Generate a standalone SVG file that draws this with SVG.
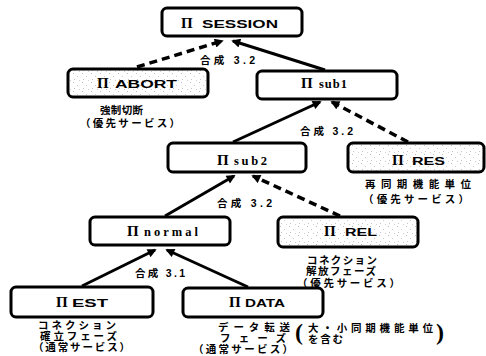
<svg xmlns="http://www.w3.org/2000/svg" width="486" height="356" viewBox="0 0 486 356">
<style>
.box{fill:#fff;stroke:#000;stroke-width:3}
.stip{fill:url(#dots);stroke:#000;stroke-width:3}
.pi{font-family:"Liberation Serif",serif;font-weight:bold;font-size:15px}
.cap{font-family:"Liberation Sans",sans-serif;font-weight:bold;font-size:10.5px}
.ser{font-family:"Liberation Serif",serif;font-weight:bold;font-size:12.5px}
.jp{font-family:"Liberation Sans","Noto Sans CJK JP",sans-serif;font-weight:bold;font-size:10.5px}
.big{font-family:"Liberation Serif",serif;font-weight:bold;font-size:24px}
.sl{fill:none;stroke:#000;stroke-width:3;marker-end:url(#ah)}
.dl{fill:none;stroke:#000;stroke-width:3.5;stroke-dasharray:8 5;marker-end:url(#ah)}
</style>
<defs>
<pattern id="dots" width="9" height="9" patternUnits="userSpaceOnUse">
<rect width="9" height="9" fill="#fff"/>
<rect x="1" y="1" width="1" height="1" fill="#bbb"/>
<rect x="5" y="4" width="1" height="1" fill="#ccc"/>
<rect x="2" y="7" width="1" height="1" fill="#c4c4c4"/>
<rect x="7" y="8" width="1" height="1" fill="#d0d0d0"/>
</pattern>
<marker id="ah" viewBox="0 0 10 10" refX="8" refY="5" markerWidth="11" markerHeight="9" markerUnits="userSpaceOnUse" orient="auto">
<path d="M0,0 L10,5 L0,10 z" fill="#000"/>
</marker>
</defs>

<g id="connectors">
<path class="dl" d="M137,67 L222,41"/>
<path class="sl" d="M325,70 L233,41"/>
<path class="sl" d="M233,142 L320,102"/>
<path class="dl" d="M408,142 L332,102"/>
<path class="sl" d="M165,216 L234,176"/>
<path class="dl" d="M340,216 L253,176"/>
<path class="sl" d="M82,286 L155,250"/>
<path class="sl" d="M248,287 L167,250"/>
<text class="jp" x="200" y="64" textLength="55">合成 3.2</text>
<text class="jp" x="300" y="135" textLength="53">合成 3.2</text>
<text class="jp" x="217" y="207" textLength="55">合成 3.2</text>
<text class="jp" x="135" y="277" textLength="50">合成 3.1</text>
</g>

<g id="session">
<rect class="box" x="162" y="8" width="140" height="28" rx="5"/>
<text class="pi" x="181" y="28">Π</text>
<text class="cap" x="202" y="28" textLength="76" lengthAdjust="spacingAndGlyphs">SESSION</text>
</g>

<g id="abort">
<rect class="stip" x="68" y="69" width="140" height="28" rx="5"/>
<text class="pi" x="97" y="88">Π</text>
<text class="cap" x="115" y="88" textLength="62" lengthAdjust="spacingAndGlyphs">ABORT</text>
<text class="jp" x="100" y="114" textLength="43">強制切断</text>
<text class="jp" x="80" y="127" textLength="100">（優先サービス）</text>
</g>

<g id="sub1">
<rect class="box" x="257" y="71" width="140" height="28" rx="5"/>
<text class="pi" x="301" y="88">Π</text>
<text class="ser" x="319" y="88" textLength="28">sub1</text>
</g>

<g id="sub2">
<rect class="box" x="168" y="143" width="138" height="29" rx="5"/>
<text class="pi" x="217" y="165">Π</text>
<text class="ser" x="234" y="165" textLength="33">sub2</text>
</g>

<g id="res">
<rect class="stip" x="348" y="143" width="136" height="29" rx="5"/>
<text class="pi" x="392" y="165">Π</text>
<text class="cap" x="412" y="165" textLength="33" lengthAdjust="spacingAndGlyphs">RES</text>
<text class="jp" x="365" y="188" textLength="106">再同期機能単位</text>
<text class="jp" x="363" y="203" textLength="106">（優先サービス）</text>
</g>

<g id="normal">
<rect class="box" x="90" y="217" width="140" height="28" rx="5"/>
<text class="pi" x="127" y="236">Π</text>
<text class="ser" x="144" y="236" textLength="54">normal</text>
</g>

<g id="rel">
<rect class="stip" x="278" y="217" width="140" height="30" rx="5"/>
<text class="pi" x="324" y="236">Π</text>
<text class="cap" x="345" y="236" textLength="32" lengthAdjust="spacingAndGlyphs">REL</text>
<text class="jp" x="307" y="264" textLength="70">コネクション</text>
<text class="jp" x="306" y="275" textLength="70">解放フェーズ</text>
<text class="jp" x="297" y="287" textLength="103">（優先サービス）</text>
</g>

<g id="est">
<rect class="box" x="11" y="287" width="142" height="30" rx="5"/>
<text class="pi" x="56" y="307">Π</text>
<text class="cap" x="72" y="307" textLength="36" lengthAdjust="spacingAndGlyphs">EST</text>
<text class="jp" x="38" y="329" textLength="78">コネクション</text>
<text class="jp" x="40" y="340" textLength="77">確立フェーズ</text>
<text class="jp" x="33" y="351" textLength="97">（通常サービス）</text>
</g>

<g id="data">
<rect class="box" x="183" y="288" width="140" height="29" rx="5"/>
<text class="pi" x="229" y="307">Π</text>
<text class="cap" x="245" y="307" textLength="40" lengthAdjust="spacingAndGlyphs">DATA</text>
<text class="jp" x="218" y="331" textLength="72">データ転送</text>
<text class="jp" x="220" y="342" textLength="66">フェーズ</text>
<text class="jp" x="193" y="353" textLength="100">（通常サービス）</text>
<text class="big" x="295" y="340">(</text>
<text class="jp" x="308" y="332" textLength="125">大・小同期機能単位</text>
<text class="jp" x="308" y="343" textLength="35">を含む</text>
<text class="big" x="436" y="340">)</text>
</g>
</svg>
